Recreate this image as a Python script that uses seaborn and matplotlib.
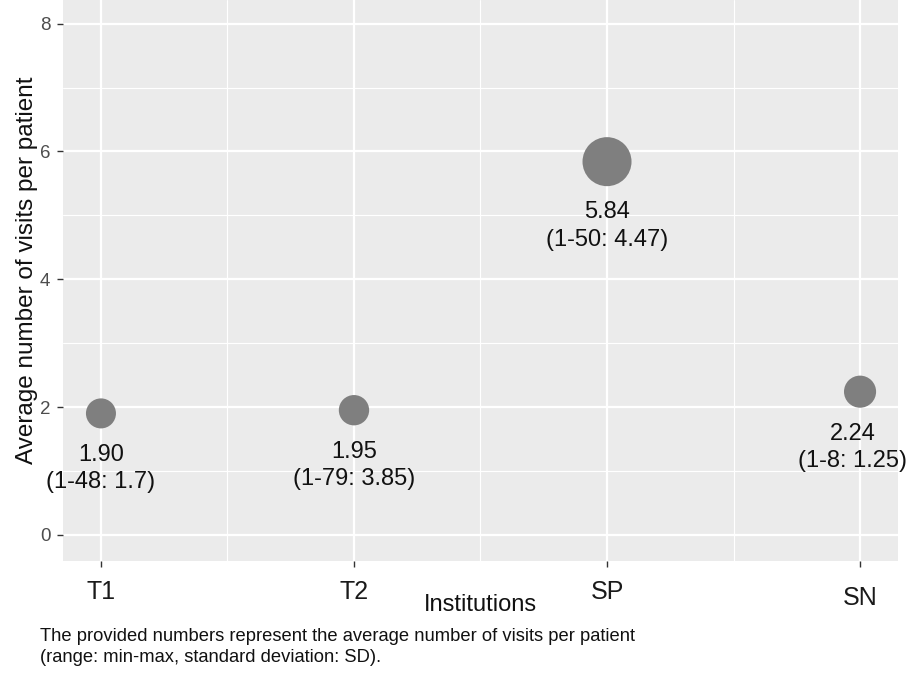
import matplotlib
matplotlib.use("Agg")
import matplotlib.pyplot as plt
import matplotlib.transforms as mtransforms
import numpy as np
import pandas as pd
import seaborn as sns

# ---------------------------------------
# Data
# ---------------------------------------
institutions = ["T1", "T2", "SP", "SN"]
mean_visits = [1.90, 1.95, 5.84, 2.24]
visit_range = ["1-48", "1-79", "1-50", "1-8"]
visit_sd = ["1.7", "3.85", "4.47", "1.25"]

df = pd.DataFrame({
    "Institution": institutions,
    "Mean": mean_visits,
    "Range": visit_range,
    "SD": visit_sd,
})
df["Label"] = [f"{m:.2f}\n({r}: {s})" for m, r, s in zip(df["Mean"], df["Range"], df["SD"])]

# ---------------------------------------
# Style (ggplot-like grey theme)
# ---------------------------------------
sns.set_theme(style="darkgrid")
plt.rcParams["font.family"] = ["Liberation Sans", "DejaVu Sans"]

fig = plt.figure(figsize=(9.1, 6.73), dpi=100)
ax = fig.add_axes([63 / 910, 1 - 561 / 673, 835 / 910, 561 / 673])
ax.set_facecolor("#ebebeb")

size_min, size_max = 467, 1245
sns.scatterplot(data=df, x="Institution", y="Mean", size="Mean",
                sizes=(size_min, size_max), size_norm=(min(mean_visits), max(mean_visits)),
                color="#7f7f7f", linewidth=0, alpha=1, legend=False, ax=ax, zorder=3)

# labels under each bubble, offset by bubble radius
labels = []
for i, row in df.iterrows():
    s = size_min + (row["Mean"] - min(mean_visits)) / (max(mean_visits) - min(mean_visits)) * (size_max - size_min)
    r_pt = np.sqrt(s) / 2
    t = ax.annotate(row["Label"], xy=(i, row["Mean"]), xytext=(0, -(r_pt + 11)),
                    textcoords="offset points", ha="center", va="top",
                    fontsize=17, color="#111111", linespacing=1.3, zorder=4)
    labels.append(t)

ax.set_xlim(-0.15, 3.15)
ax.set_ylim(-0.41, 8.37)
ax.set_yticks([0, 2, 4, 6, 8])
ax.set_yticks([1, 3, 5, 7], minor=True)
ax.set_xticks([0.5, 1.5, 2.5], minor=True)

ax.grid(which="major", color="white", linewidth=1.6)
ax.grid(which="minor", color="white", linewidth=0.8)
ax.set_axisbelow(True)
for sp in ax.spines.values():
    sp.set_visible(False)

ax.tick_params(axis="y", which="major", length=4, width=1, color="#333333",
               labelsize=13.5, labelcolor="#4d4d4d", pad=5, left=True)
ax.tick_params(axis="x", which="major", length=4, width=1, color="#333333",
               labelsize=18, labelcolor="#1a1a1a", pad=10, bottom=True)
ax.tick_params(which="minor", length=0)

# the SN tick label sits a little lower in the original
lbls = ax.get_xticklabels()
lbls[3].set_transform(lbls[3].get_transform() +
                      mtransforms.ScaledTranslation(0, -0.06, fig.dpi_scale_trans))

ax.set_xlabel("Institutions", fontsize=17, color="#111111")
ax.xaxis.set_label_coords(0.5, -0.078)
ax.xaxis.label.set_va("center")
ax.set_ylabel("Average number of visits per patient", fontsize=17.5, color="#111111")
ax.yaxis.set_label_coords(-36 / 835, 0.5 + (561 / 2 - 270) / 561)
ax.yaxis.label.set_va("center")

fig.text(40 / 910, 1 - 647 / 673,
         "The provided numbers represent the average number of visits per patient\n"
         "(range: min-max, standard deviation: SD).",
         fontsize=13.2, color="#111111", ha="left", va="center", linespacing=1.35)

# keep labels inside the figure at the right edge
fig.canvas.draw()
renderer = fig.canvas.get_renderer()
fig_w = fig.bbox.width
for t in labels:
    bb = t.get_window_extent(renderer)
    over = bb.x1 - (fig_w - 3)
    if over > 0:
        x0, y0 = t.xyann
        t.xyann = (x0 - over * 72 / fig.dpi, y0)

fig.savefig("out.png", dpi=100)
